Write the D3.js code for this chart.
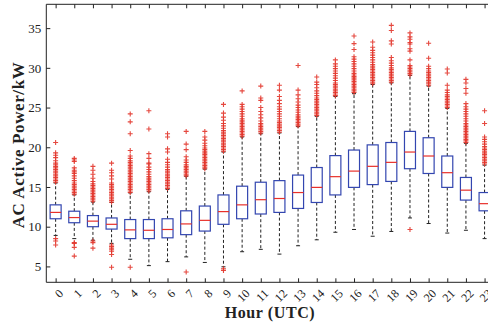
<!DOCTYPE html>
<html>
<head>
<meta charset="utf-8">
<script src="https://cdn.jsdelivr.net/npm/d3@7"></script>
<style>
  html, body { margin: 0; padding: 0; background: #fff; }
  svg { display: block; }
</style>
</head>
<body>
<svg id="chart" width="488" height="329"></svg>
<script>
// ---- data ----
const hours = ["0","1","2","3","4","5","6","7","8","9","10","11","12","13","14","15","16","17","18","19","20","21","22","23"];
const q3     = [12.75,11.95,11.4,11.1,10.9,10.9,11.0,12.0,12.6,14.0,15.1,15.6,15.8,16.5,17.45,18.95,19.65,20.3,20.6,22.0,21.2,18.9,16.2,14.3];
const median = [11.8,11.15,10.7,10.3,9.6,9.55,9.65,10.35,10.8,11.9,12.75,13.4,13.55,14.3,14.95,16.3,17.0,17.6,18.1,19.4,18.9,16.8,14.6,12.9];
const q1     = [11.0,10.5,10.0,9.7,8.5,8.5,8.6,9.0,9.45,10.3,11.0,11.6,11.8,12.3,13.05,14.0,14.95,15.3,15.7,17.3,16.7,14.95,13.35,12.0];
const whiskerLow  = [8.9,8.5,8.3,7.9,5.9,5.1,5.6,6.2,5.5,4.95,6.85,7.15,6.55,7.6,8.35,9.3,9.65,8.8,9.4,11.1,10.4,9.2,9.55,8.5];
const whiskerHigh = [15.5,14.0,13.1,13.05,14.25,14.4,14.7,16.35,17.25,19.4,21.3,21.7,21.8,22.6,23.9,26.4,26.75,27.9,28.1,29.05,27.7,24.9,20.5,17.75];
const outliers = [
  [15.6,15.8,16.0,16.2,16.4,16.6,16.8,17.0,17.2,17.4,17.6,17.8,18.0,18.3,18.7,19.0,19.3,20.6,8.5,8.2,7.7],
  [14.1,14.3,14.5,14.7,14.9,15.1,15.3,15.5,15.8,16.1,16.4,16.7,16.9,17.1,17.4,18.2,18.4,18.6,8.0,7.9,7.4,6.3],
  [13.2,13.4,13.6,13.8,14.0,14.2,14.4,14.6,14.8,15.0,15.2,15.4,15.7,16.1,16.6,17.1,17.6,8.2,8.0,7.3],
  [13.1,13.3,13.5,13.7,13.9,14.1,14.3,14.5,14.7,14.9,15.1,15.3,15.5,16.0,16.4,16.8,17.1,18.0,7.7,7.5,7.3,7.1,6.9,6.5,4.9],
  [14.3,14.5,14.7,14.9,15.1,15.3,15.5,15.7,15.9,16.1,16.3,16.5,16.7,16.9,17.1,17.3,17.5,17.7,17.9,18.1,18.3,18.6,18.9,19.6,21.7,23.2,24.2,4.9],
  [14.5,14.7,14.9,15.1,15.3,15.5,15.7,15.9,16.1,16.3,16.6,16.9,17.2,17.5,17.9,18.0,18.6,19.2,22.3,24.6],
  [14.8,15.0,15.2,15.4,15.6,15.8,16.0,16.2,16.4,16.6,16.8,17.0,17.2,17.5,17.8,18.1,18.5,19.4,19.8,21.3,21.7],
  [16.4,16.6,16.8,17.0,17.2,17.4,17.6,17.8,18.1,18.4,18.8,19.7,20.4,22.0,4.3],
  [17.3,17.5,17.7,17.9,18.1,18.3,18.5,18.7,18.9,19.1,19.3,19.5,19.7,19.9,20.2,20.5,20.9,21.3,22.0],
  [19.5,19.7,19.9,20.1,20.3,20.5,20.7,20.9,21.1,21.3,21.5,21.7,21.9,22.1,22.4,22.7,23.0,23.4,23.8,24.3,25.4,4.7,4.5],
  [21.4,21.6,21.8,22.0,22.2,22.4,22.6,22.8,23.0,23.2,23.4,23.6,23.9,24.2,24.5,24.8,25.1,25.4,27.1],
  [21.8,22.0,22.2,22.4,22.6,22.8,23.0,23.3,23.7,24.1,24.5,25.0,25.9,26.2,27.7],
  [21.9,22.1,22.3,22.5,22.7,22.9,23.1,23.3,23.6,23.9,24.2,24.5,24.8,25.1,25.5,25.9,26.4,27.2,27.8],
  [22.7,22.9,23.1,23.3,23.5,23.7,23.9,24.1,24.4,24.7,25.0,25.3,25.7,26.1,26.6,27.2,30.3],
  [24.0,24.2,24.4,24.6,24.8,25.0,25.2,25.4,25.6,25.8,26.0,26.2,26.5,26.8,27.1,27.5,27.9,28.2,28.85],
  [26.5,26.7,26.9,27.1,27.3,27.5,27.7,27.9,28.1,28.4,28.7,29.0,29.3,29.6,29.9,30.2,30.5,31.0],
  [26.9,27.1,27.3,27.5,27.7,27.9,28.1,28.3,28.5,28.7,28.9,29.1,29.3,29.6,29.9,30.2,30.5,30.8,31.1,31.4,32.3,33.05,34.0],
  [28.0,28.2,28.4,28.6,28.8,29.0,29.2,29.4,29.6,29.8,30.0,30.2,30.4,30.7,31.0,31.3,31.6,31.9,32.2,32.6,33.25],
  [28.2,28.4,28.6,28.8,29.0,29.2,29.4,29.6,29.8,30.0,30.3,30.6,30.9,31.3,33.0,33.4,34.7,35.35],
  [29.1,29.3,29.5,29.7,29.9,30.1,30.3,31.0,32.1,32.4,33.0,33.2,33.6,33.9,34.4,9.65],
  [27.8,28.0,28.2,28.4,28.6,28.8,29.0,29.2,29.4,29.6,29.9,30.2,31.2,33.1],
  [25.0,25.2,25.4,25.6,25.8,26.0,26.2,26.4,26.6,26.9,27.2,27.8,29.35,29.85],
  [20.6,20.8,21.0,21.2,21.4,21.6,21.8,22.0,22.2,22.4,22.6,22.8,23.0,23.3,23.6,23.9,24.2,24.5,24.8,25.1,25.5,26.8,27.4,28.1,28.55],
  [17.9,18.1,18.3,18.5,18.7,18.9,19.1,19.3,19.5,19.7,19.9,20.1,20.4,20.7,21.0,21.3,23.0,24.6]
];
const yTicks = [5,10,15,20,25,30,35];
const yDomain = [3, 38];

// ---- layout ----
const svg = d3.select("#chart");
const pLeft = 46.3, pRight = 493.9, pTop = 4.3, pBottom = 282.3;
const x = d3.scaleLinear().domain([-0.5, hours.length - 0.5]).range([pLeft, pRight]);
const y = d3.scaleLinear().domain(yDomain).range([pBottom, pTop]);
const serif = "'Liberation Serif', 'DejaVu Serif', serif";
const boxW = 11, capW = 4;

const rows = hours.map((h, i) => ({h, i, q1: q1[i], med: median[i], q3: q3[i], lo: whiskerLow[i], hi: whiskerHigh[i], out: outliers[i]}));

// whiskers
const g = svg.append("g");
const wg = g.selectAll("g.w").data(rows).join("g").attr("class", "w");
wg.append("line").attr("x1", d => x(d.i)).attr("x2", d => x(d.i))
  .attr("y1", d => y(d.q3)).attr("y2", d => y(d.hi))
  .attr("stroke", "#222").attr("stroke-width", 1).attr("stroke-dasharray", "3,2.2");
wg.append("line").attr("x1", d => x(d.i)).attr("x2", d => x(d.i))
  .attr("y1", d => y(d.q1)).attr("y2", d => y(d.lo))
  .attr("stroke", "#222").attr("stroke-width", 1).attr("stroke-dasharray", "3,2.2");
wg.append("line").attr("x1", d => x(d.i) - capW/2).attr("x2", d => x(d.i) + capW/2)
  .attr("y1", d => y(d.hi)).attr("y2", d => y(d.hi)).attr("stroke", "#222").attr("stroke-width", 1);
wg.append("line").attr("x1", d => x(d.i) - capW/2).attr("x2", d => x(d.i) + capW/2)
  .attr("y1", d => y(d.lo)).attr("y2", d => y(d.lo)).attr("stroke", "#222").attr("stroke-width", 1);

// boxes
wg.append("rect").attr("x", d => x(d.i) - boxW/2).attr("width", boxW)
  .attr("y", d => y(d.q3)).attr("height", d => y(d.q1) - y(d.q3))
  .attr("fill", "#fff").attr("stroke", "#3346b0").attr("stroke-width", 1.2);
wg.append("line").attr("x1", d => x(d.i) - boxW/2).attr("x2", d => x(d.i) + boxW/2)
  .attr("y1", d => y(d.med)).attr("y2", d => y(d.med))
  .attr("stroke", "#e8302a").attr("stroke-width", 1.2);

// outliers
const pts = rows.flatMap(d => d.out.map(v => ({i: d.i, v})));
const arm = 2.5;
g.selectAll("path.o").data(pts).join("path").attr("class", "o")
  .attr("d", d => `M${x(d.i) - arm},${y(d.v)}H${x(d.i) + arm}M${x(d.i)},${y(d.v) - arm}V${y(d.v) + arm}`)
  .attr("stroke", "#e2342a").attr("stroke-width", 1.1).attr("fill", "none").attr("opacity", 0.9);

// frame
svg.append("path").attr("d", `M${pRight},${pTop}H${pLeft}V${pBottom}H${pRight}`)
  .attr("fill", "none").attr("stroke", "#222").attr("stroke-width", 1);

// axes
const yAxis = svg.append("g").attr("transform", `translate(${pLeft},0)`)
  .call(d3.axisLeft(y).tickValues(yTicks).tickSizeInner(-4).tickSizeOuter(0).tickPadding(5));
yAxis.select(".domain").remove();
yAxis.selectAll("text").attr("font-family", serif).attr("font-size", 13).attr("fill", "#222");
yAxis.selectAll("line").attr("stroke", "#222");

const xAxis = svg.append("g").attr("transform", `translate(0,${pBottom})`)
  .call(d3.axisBottom(x).tickValues(d3.range(hours.length)).tickFormat(i => hours[i]).tickSizeInner(-4).tickSizeOuter(0));
xAxis.select(".domain").remove();
xAxis.selectAll("line").attr("stroke", "#222");
xAxis.selectAll("text").attr("font-family", serif).attr("font-size", 12).attr("fill", "#222")
  .attr("text-anchor", "end").attr("dy", "0.35em")
  .attr("transform", "translate(5,9) rotate(-45)").attr("y", 0).attr("x", 0);

const xTop = svg.append("g").attr("transform", `translate(0,${pTop})`)
  .call(d3.axisTop(x).tickValues(d3.range(hours.length)).tickFormat("").tickSizeInner(-4).tickSizeOuter(0));
xTop.select(".domain").remove();
xTop.selectAll("line").attr("stroke", "#222");

// titles
svg.append("text").attr("x", 270).attr("y", 318)
  .attr("text-anchor", "middle").attr("font-family", serif).attr("font-weight", "bold").attr("font-size", 16)
  .attr("letter-spacing", 0.6).attr("fill", "#222").text("Hour (UTC)");
svg.append("text").attr("transform", `translate(24,145) rotate(-90)`)
  .attr("text-anchor", "middle").attr("font-family", serif).attr("font-weight", "bold").attr("font-size", 17)
  .attr("letter-spacing", 0.6).attr("fill", "#222").text("AC Active Power/kW");
</script>
</body>
</html>
